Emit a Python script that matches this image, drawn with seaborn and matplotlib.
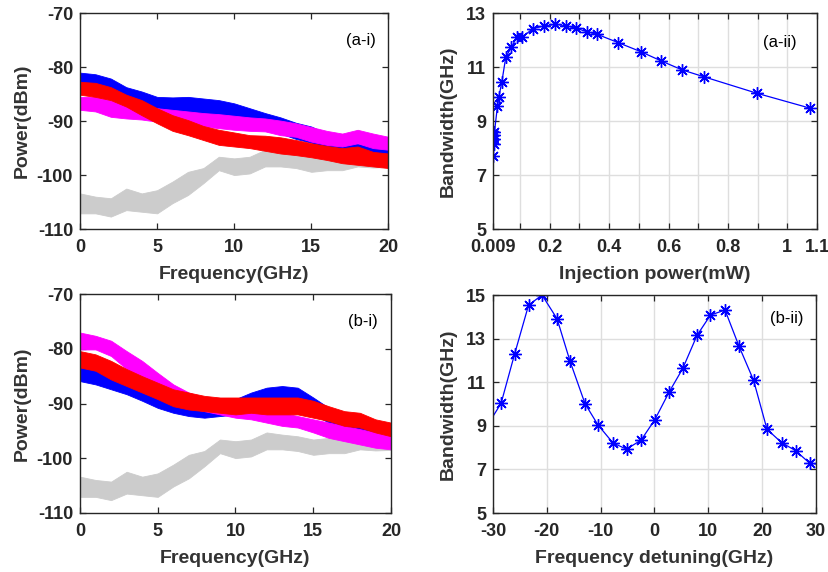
import numpy as np
import pandas as pd
import matplotlib
matplotlib.use("Agg")
import matplotlib.pyplot as plt
import seaborn as sns

# ---------------- data ----------------
freq = [0, 1, 2, 3, 4, 5, 6, 7, 8, 9, 10, 11, 12, 13, 14, 15, 16, 17, 18, 19, 20]

# free-running (gray) reference, same in both spectral panels
gray_hi = [-103.4, -104.0, -104.3, -102.5, -103.4, -102.8, -101.2, -99.4, -98.7, -96.6, -96.9,
           -96.6, -95.3, -95.7, -96.0, -96.6, -96.3, -96.6, -96.0, -96.2, -96.0]
gray_lo = [-107.1, -107.1, -107.7, -106.5, -106.8, -107.1, -105.2, -103.7, -101.5, -99.1, -100.0,
           -99.7, -98.4, -98.4, -98.7, -99.4, -99.1, -99.1, -98.4, -98.6, -98.5]

# (a-i)
a_blue_hi = [-81.0, -81.3, -82.1, -83.7, -84.5, -85.5, -85.6, -85.5, -85.8, -86.1, -86.7,
             -87.6, -88.5, -89.3, -90.3, -91.0, -92.3, -93.4, -94.2, -94.7, -95.3]
a_blue_lo = [-84.0, -84.5, -85.3, -86.8, -87.6, -88.5, -88.6, -88.5, -88.8, -89.2, -89.8,
             -90.7, -91.5, -92.3, -93.3, -94.0, -95.3, -96.4, -97.2, -97.7, -98.2]
a_mag_hi = [-85.5, -85.5, -86.1, -87.0, -87.2, -87.6, -87.9, -88.2, -88.5, -88.7, -89.0,
            -89.3, -89.5, -89.9, -90.4, -91.1, -91.8, -92.3, -91.6, -92.3, -92.9]
a_mag_lo = [-87.9, -88.2, -89.2, -89.5, -89.7, -90.1, -90.4, -90.7, -91.0, -91.3, -91.6,
            -91.8, -91.9, -92.6, -92.9, -93.8, -94.4, -94.7, -94.1, -95.0, -95.3]
a_red_hi = [-82.7, -82.9, -83.7, -85.1, -86.1, -87.6, -88.9, -89.8, -90.9, -91.6, -92.1,
            -92.6, -92.7, -93.0, -93.5, -94.1, -94.6, -95.0, -94.7, -95.7, -96.0]
a_red_lo = [-85.1, -85.5, -86.1, -87.3, -88.9, -90.4, -91.8, -92.6, -93.5, -94.4, -94.7,
            -95.0, -95.5, -96.0, -96.3, -96.7, -97.2, -97.8, -98.1, -98.4, -98.7]

# (b-i)
b_blue_hi = [-83.1, -84.0, -85.0, -85.9, -86.8, -88.0, -88.9, -89.5, -89.8, -89.5, -89.2,
             -88.0, -87.1, -86.8, -87.1, -88.9, -90.8, -92.0, -92.9, -93.5, -94.1]
b_blue_lo = [-85.9, -86.5, -87.4, -88.3, -89.5, -90.8, -91.7, -92.3, -92.6, -92.3, -92.0,
             -91.1, -90.2, -89.8, -90.2, -92.0, -93.5, -94.7, -95.3, -96.0, -96.6]
b_mag_hi = [-77.0, -77.6, -78.5, -80.4, -82.2, -84.4, -86.5, -88.0, -88.9, -89.5, -89.8,
            -90.5, -91.1, -91.7, -92.3, -92.9, -93.5, -94.1, -94.7, -95.3, -95.6]
b_mag_lo = [-80.1, -80.1, -81.3, -83.7, -85.6, -87.4, -89.2, -90.8, -91.4, -92.0, -92.6,
            -92.9, -93.5, -94.1, -94.4, -95.3, -96.3, -96.9, -97.5, -98.1, -98.4]
b_red_hi = [-80.4, -81.0, -82.2, -83.7, -85.0, -86.2, -87.4, -88.0, -88.6, -88.9, -88.9,
            -88.9, -88.9, -88.9, -88.9, -89.5, -90.5, -91.4, -91.7, -92.9, -93.5]
b_red_lo = [-83.4, -84.0, -85.6, -86.8, -88.0, -89.2, -90.5, -91.1, -91.4, -91.7, -92.0,
            -91.7, -92.0, -92.0, -92.0, -92.6, -93.2, -94.1, -94.4, -95.3, -96.0]

# (a-ii) bandwidth vs injection power
inj_power = [0.010, 0.011, 0.012, 0.013, 0.014, 0.024, 0.029, 0.039, 0.052, 0.071, 0.090,
             0.107, 0.143, 0.180, 0.219, 0.255, 0.290, 0.324, 0.360, 0.431, 0.506,
             0.576, 0.646, 0.718, 0.899, 1.077]
bw_power = [7.7, 8.15, 8.35, 8.5, 8.6, 9.56, 9.91, 10.47, 11.37, 11.74, 12.13,
            12.11, 12.43, 12.53, 12.59, 12.54, 12.44, 12.32, 12.22, 11.91, 11.58,
            11.23, 10.90, 10.65, 10.03, 9.48]

# (b-ii) bandwidth vs frequency detuning
detuning = [-31.1, -28.5, -26.0, -23.4, -20.9, -18.1, -15.7, -12.9, -10.5, -7.7, -5.2, -2.5,
            0.06, 2.7, 5.25, 7.9, 10.4, 13.1, 15.7, 18.4, 20.9, 23.6, 26.2, 28.8, 31.4]
bw_detuning = [9.0, 10.03, 12.28, 14.53, 15.0, 13.91, 11.97, 10.01, 9.04, 8.21, 7.93, 8.34,
               9.28, 10.54, 11.63, 13.15, 14.08, 14.31, 12.65, 11.09, 8.84, 8.23, 7.86, 7.29, 7.2]

power_ticks = [0.009, 0.1, 0.2, 0.3, 0.4, 0.5, 0.6, 0.7, 0.8, 0.9, 1.0, 1.1]
power_ticklabels = ['0.009', '', '0.2', '', '0.4', '', '0.6', '', '0.8', '', '1', '1.1']

# ---------------- style ----------------
sns.set_style("ticks")
plt.rcParams['font.family'] = ['Liberation Sans', 'DejaVu Sans']
plt.rcParams['font.weight'] = 'bold'
plt.rcParams['axes.unicode_minus'] = False

BLUE = (0, 0, 1)
RED = (1, 0, 0)
MAG = (1, 0, 1)
GRAY = (0.80, 0.80, 0.80)
SPINE = (0.15, 0.15, 0.15)
LABEL_C = (0.2, 0.2, 0.2)
TICK_FS = 13
LABEL_FS = 14
PANEL_FS = 12

fig = plt.figure(figsize=(8.29, 5.72), dpi=100)
W, H = 829, 572


def axes_px(l, t, r, b):
    return fig.add_axes([l / W, (H - b) / H, (r - l) / W, (b - t) / H])


ax1 = axes_px(80, 13.3, 388.5, 229)
ax2 = axes_px(493, 13.3, 817, 229)
ax3 = axes_px(80, 294.3, 391, 512.7)
ax4 = axes_px(493, 295, 816, 513)


def style_axes(ax, grid=False):
    for s in ax.spines.values():
        s.set_visible(True)
        s.set_color(SPINE)
        s.set_linewidth(1.0)
    ax.tick_params(direction='in', length=4, width=0.9, top=True, right=True,
                   labelsize=TICK_FS, colors=SPINE)
    ax.tick_params(axis='x', pad=7.5)
    ax.tick_params(axis='y', pad=5)
    for lab in ax.get_xticklabels() + ax.get_yticklabels():
        lab.set_fontweight('bold')
        lab.set_color((0.15, 0.15, 0.15))
    if grid:
        ax.grid(True, color=(0.87, 0.87, 0.87), linewidth=1.0)
        ax.set_axisbelow(True)
    else:
        ax.grid(False)


def spectra(ax, blue, mag, red, label):
    ax.fill_between(freq, gray_lo, gray_hi, color=GRAY, linewidth=0.6, edgecolor=GRAY)
    ax.fill_between(freq, blue[1], blue[0], color=BLUE, linewidth=0.6, edgecolor=BLUE)
    ax.fill_between(freq, mag[1], mag[0], color=MAG, linewidth=0.6, edgecolor=MAG)
    ax.fill_between(freq, red[1], red[0], color=RED, linewidth=0.6, edgecolor=RED)
    ax.set_xlim(0, 20)
    ax.set_ylim(-110, -70)
    ax.set_xticks([0, 5, 10, 15, 20])
    ax.set_yticks([-110, -100, -90, -80, -70])
    ax.set_xlabel('Frequency(GHz)', fontsize=LABEL_FS, fontweight='bold', color=LABEL_C, labelpad=7)
    ax.set_ylabel('Power(dBm)', fontsize=LABEL_FS, fontweight='bold', color=LABEL_C, labelpad=4)
    style_axes(ax)
    ax.text(0.91, 0.875, label, transform=ax.transAxes, ha='center', va='center',
            fontsize=PANEL_FS, fontweight='normal', color='black')


spectra(ax1, (a_blue_hi, a_blue_lo), (a_mag_hi, a_mag_lo), (a_red_hi, a_red_lo), '(a-i)')
spectra(ax3, (b_blue_hi, b_blue_lo), (b_mag_hi, b_mag_lo), (b_red_hi, b_red_lo), '(b-i)')

# (a-ii)
df_p = pd.DataFrame({'power': inj_power, 'bw': bw_power})
sns.lineplot(data=df_p, x='power', y='bw', ax=ax2, sort=False, color=BLUE,
             linewidth=0.9, marker=(8, 2, 0), markersize=9, markeredgewidth=1.0,
             markeredgecolor=BLUE)
ax2.set_xlim(0.009, 1.1)
ax2.set_ylim(5, 13)
ax2.set_xticks(power_ticks)
ax2.set_xticklabels(power_ticklabels)
ax2.set_yticks([5, 7, 9, 11, 13])
ax2.set_xlabel('Injection power(mW)', fontsize=LABEL_FS, fontweight='bold', color=LABEL_C, labelpad=7)
ax2.set_ylabel('Bandwidth(GHz)', fontsize=LABEL_FS, fontweight='bold', color=LABEL_C, labelpad=7)
style_axes(ax2, grid=True)
ax2.text(0.886, 0.866, '(a-ii)', transform=ax2.transAxes, ha='center', va='center',
         fontsize=PANEL_FS, fontweight='normal', color='black')

# (b-ii)
df_d = pd.DataFrame({'det': detuning, 'bw': bw_detuning})
sns.lineplot(data=df_d, x='det', y='bw', ax=ax4, sort=False, color=BLUE,
             linewidth=0.9, marker=(8, 2, 0), markersize=9, markeredgewidth=1.0,
             markeredgecolor=BLUE)
ax4.set_xlim(-30, 30)
ax4.set_ylim(5, 15)
ax4.set_xticks([-30, -20, -10, 0, 10, 20, 30])
ax4.set_yticks([5, 7, 9, 11, 13, 15])
ax4.set_xlabel('Frequency detuning(GHz)', fontsize=LABEL_FS, fontweight='bold', color=LABEL_C, labelpad=7)
ax4.set_ylabel('Bandwidth(GHz)', fontsize=LABEL_FS, fontweight='bold', color=LABEL_C, labelpad=7)
style_axes(ax4, grid=True)
ax4.text(0.91, 0.89, '(b-ii)', transform=ax4.transAxes, ha='center', va='center',
         fontsize=PANEL_FS, fontweight='normal', color='black')

for ax in (ax1, ax2, ax3, ax4):
    leg = ax.get_legend()
    if leg is not None:
        leg.remove()

fig.savefig('out.png', dpi=100)
